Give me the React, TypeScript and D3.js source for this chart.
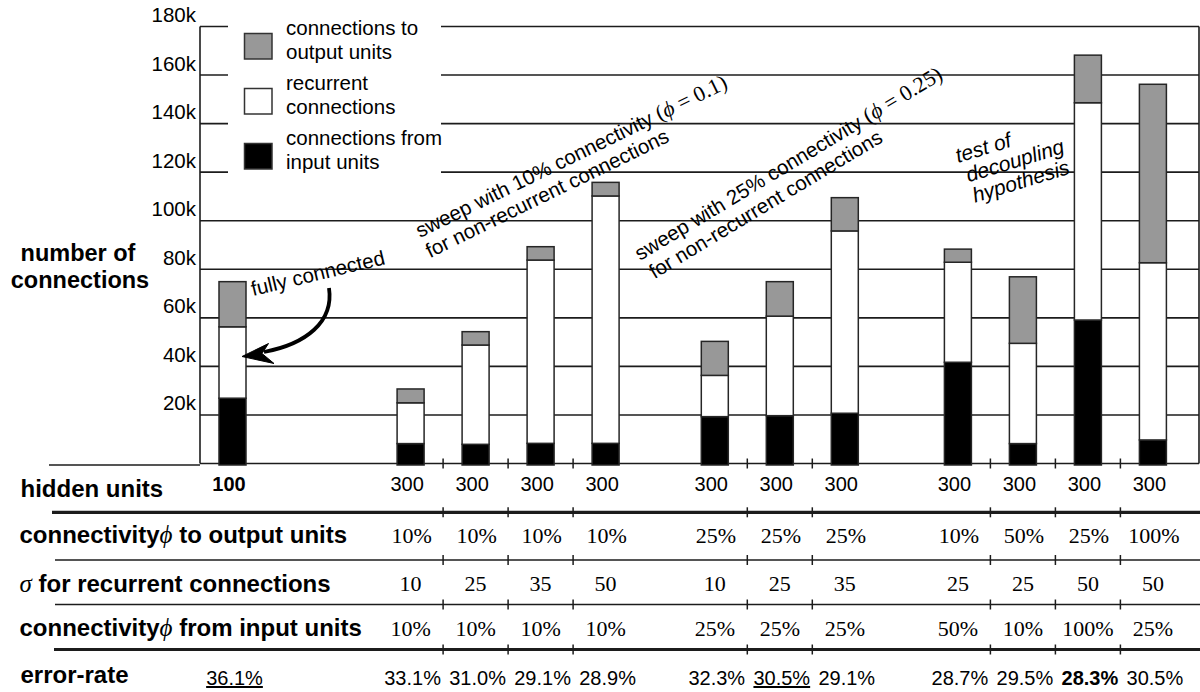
import React from 'react';
import * as d3 from 'd3';

// Experiments, in drawing order (group 0: fully connected, 1: ϕ=0.1 sweep, 2: ϕ=0.25 sweep, 3: decoupling test)
const experiments = ['fc', 's10a', 's10b', 's10c', 's10d', 's25a', 's25b', 's25c', 'dec1', 'dec2', 'dec3', 'dec4'];
const experimentGroup = [0, 1, 1, 1, 1, 2, 2, 2, 3, 3, 3, 3];

// Connection counts per experiment
const inputConnections = [26900, 8200, 7900, 8300, 8300, 19300, 19700, 20700, 41700, 8200, 59100, 9700];
const recurrentConnections = [29400, 16800, 40900, 75500, 101900, 17000, 41000, 75100, 41200, 41300, 89500, 73000];
const outputConnections = [18600, 5700, 5500, 5500, 5600, 14000, 14200, 13700, 5400, 27400, 19600, 73500];

// Table rows
const hiddenUnits = ['100', '300', '300', '300', '300', '300', '300', '300', '300', '300', '300', '300'];
const phiOutput = ['', '10%', '10%', '10%', '10%', '25%', '25%', '25%', '10%', '50%', '25%', '100%'];
const sigmaRecurrent = ['', '10', '25', '35', '50', '10', '25', '35', '25', '25', '50', '50'];
const phiInput = ['', '10%', '10%', '10%', '10%', '25%', '25%', '25%', '50%', '10%', '100%', '25%'];
const errorRate = ['36.1%', '33.1%', '31.0%', '29.1%', '28.9%', '32.3%', '30.5%', '29.1%', '28.7%', '29.5%', '28.3%', '30.5%'];
const underlinedErrors = [0, 6];
const boldErrors = [10];

const yTickValues = [20000, 40000, 60000, 80000, 100000, 120000, 140000, 160000, 180000];
const yTickLabels = ['20k', '40k', '60k', '80k', '100k', '120k', '140k', '160k', '180k'];

const legendItems = [
  { key: 'output', lines: ['connections to', 'output units'] },
  { key: 'recurrent', lines: ['recurrent', 'connections'] },
  { key: 'input', lines: ['connections from', 'input units'] },
];

const SANS = '"Liberation Sans", Arial, Helvetica, sans-serif';
const SERIF = '"Liberation Serif", "Times New Roman", serif';
const INK = '#1c1c1c';
const fills: Record<string, string> = { input: '#000000', recurrent: '#ffffff', output: '#989898' };

// extra spacing (in bar steps) inserted before each group
const groupGap = [0, 1.74, 0.68, 0.74];

export default function App() {
  const W = 1200;
  const H = 692;
  const plotLeft = 200;
  const plotRight = 1199;

  const y = d3.scaleLinear().domain([0, 180000]).range([463.5, 26.5]);

  // slot position of each bar: index plus accumulated group gaps
  const slots = experiments.map((_, i) => {
    let s = i;
    for (let g = 1; g <= experimentGroup[i]; g++) s += groupGap[g];
    return s;
  });
  const x = d3.scaleLinear().domain([0, 1]).range([232.5, 297.5]);
  const cx = slots.map((s) => x(s));
  const barW = 27;

  const table = experiments.map((id, i) => ({
    id,
    input: inputConnections[i],
    recurrent: recurrentConnections[i],
    output: outputConnections[i],
  }));
  const stack = d3.stack<any>().keys(['input', 'recurrent', 'output'])(table);

  // separators between neighbouring bars of the same group
  const separators: number[] = [];
  for (let i = 1; i < experiments.length; i++) {
    if (experimentGroup[i] === experimentGroup[i - 1]) separators.push((cx[i] + cx[i - 1]) / 2);
  }

  const baseY = y(0);
  const tableLines = [
    { y: 512.3, x0: 52, w: 3.2 },
    { y: 560, x0: 55, w: 1.6 },
    { y: 604.5, x0: 55, w: 1.6 },
    { y: 649.5, x0: 54, w: 3.2 },
  ];

  const labelStyle = { fontFamily: SANS, fontWeight: 700, fontSize: 24 } as const;
  const greek = { fontFamily: SERIF, fontStyle: 'italic', fontWeight: 400, fontSize: 25 } as const;

  return (
    <svg width={W} height={H} style={{ position: 'absolute', left: 0, top: 0, background: '#fff' }}>
      <rect width={W} height={H} fill="#fff" />

      {/* gridlines */}
      {yTickValues.map((v) => (
        <line key={v} x1={plotLeft} x2={plotRight} y1={y(v)} y2={y(v)} stroke={INK} strokeWidth={1.6} />
      ))}
      {/* frame */}
      <line x1={plotLeft} x2={plotLeft} y1={y(180000)} y2={baseY} stroke={INK} strokeWidth={1.6} />
      <line x1={plotRight} x2={plotRight} y1={y(180000)} y2={baseY} stroke={INK} strokeWidth={1.6} />
      <line x1={plotLeft} x2={plotRight} y1={baseY} y2={baseY} stroke={INK} strokeWidth={1.6} />
      <line x1={49} x2={plotLeft} y1={465} y2={465} stroke={INK} strokeWidth={1.6} />
      {separators.map((s, i) => (
        <line key={i} x1={s} x2={s} y1={baseY - 5} y2={baseY + 5} stroke={INK} strokeWidth={1.5} />
      ))}

      {/* y tick labels */}
      {yTickValues.map((v, i) => (
        <text key={v} x={196} y={y(v) - 4.5} textAnchor="end" fontFamily={SANS} fontSize={20.5} fill="#000">
          {yTickLabels[i]}
        </text>
      ))}

      {/* y axis title */}
      <text x={78} y={260.7} textAnchor="middle" {...labelStyle} fontSize={23.5}>number of</text>
      <text x={80} y={288.3} textAnchor="middle" {...labelStyle} fontSize={23.5}>connections</text>

      {/* stacked bars */}
      {stack.map((layer) => (
        <g key={layer.key}>
          {layer.map((d, i) => {
            const top = y(d[1]);
            const bottom = layer.key === 'input' ? baseY + 1.5 : y(d[0]);
            return (
              <rect
                key={i}
                x={cx[i] - barW / 2}
                y={top}
                width={barW}
                height={bottom - top}
                fill={fills[layer.key]}
                stroke="#262626"
                strokeWidth={1.5}
              />
            );
          })}
        </g>
      ))}

      {/* legend */}
      <rect x={228} y={14} width={213} height={170} fill="#fff" />
      {legendItems.map((item, k) => {
        const top = 33.5 + k * 55;
        return (
          <g key={item.key}>
            <rect x={244.5} y={top} width={27.5} height={25.5} fill={fills[item.key]} stroke="#333" strokeWidth={1.5} />
            <text x={286} y={top + 1.8} fontFamily={SANS} fontSize={20.5}>{item.lines[0]}</text>
            <text x={286} y={top + 25.8} fontFamily={SANS} fontSize={20.5}>{item.lines[1]}</text>
          </g>
        );
      })}

      {/* annotations */}
      <text transform="translate(253,296) rotate(-13.5)" fontFamily={SANS} fontSize={20.5}>fully connected</text>
      <path d="M329,288 C334,322 306,344 264,352" fill="none" stroke="#000" strokeWidth={3.8} />
      <path d="M242,356.5 L268.5,343.5 L262,353.5 L274,363.5 Z" fill="#000" stroke="#000" strokeWidth={1} strokeLinejoin="round" />

      <g transform="translate(420,238) rotate(-26)" fontFamily={SANS} fontSize={20.5}>
        <text x={0} y={0}>
          sweep with 10% connectivity{' '}
          <tspan fontFamily={SERIF} fontSize={22}>
            (<tspan fontStyle="italic">ϕ</tspan> = 0.1)
          </tspan>
        </text>
        <text x={0} y={22.6}>for non-recurrent connections</text>
      </g>

      <g transform="translate(640,261) rotate(-31)" fontFamily={SANS} fontSize={20.5}>
        <text x={0} y={0}>
          sweep with 25% connectivity{' '}
          <tspan fontFamily={SERIF} fontSize={22}>
            (<tspan fontStyle="italic">ϕ</tspan> = 0.25)
          </tspan>
        </text>
        <text x={3} y={23}>for non-recurrent connections</text>
      </g>

      <g transform="translate(958,163) rotate(-17)" fontFamily={SANS} fontSize={21} fontStyle="italic">
        <text x={0} y={0}>test of</text>
        <text x={4.3} y={21.5}>decoupling</text>
        <text x={4.5} y={43}>hypothesis</text>
      </g>

      {/* table rules */}
      {tableLines.map((l, i) => (
        <g key={i}>
          <line x1={l.x0} x2={W} y1={l.y} y2={l.y} stroke={INK} strokeWidth={l.w} />
          {separators.map((s, j) => (
            <line key={j} x1={s} x2={s} y1={l.y - 5} y2={l.y + 5} stroke={INK} strokeWidth={1.5} />
          ))}
        </g>
      ))}

      {/* table row labels */}
      <text x={20.5} y={496.7} {...labelStyle}>hidden units</text>
      <text x={19.5} y={543.3} {...labelStyle}>
        connectivity
        <tspan {...greek}>ϕ</tspan>
        {'  to output units'}
      </text>
      <text x={19.5} y={591.7} {...labelStyle}>
        <tspan {...greek}>σ</tspan>
        {' for recurrent connections'}
      </text>
      <text x={19.5} y={635.5} {...labelStyle}>
        connectivity
        <tspan {...greek}>ϕ</tspan>
        {'  from input units'}
      </text>
      <text x={20.5} y={683.3} {...labelStyle}>error-rate</text>

      {/* table values */}
      {experiments.map((id, i) => (
        <g key={id}>
          <text x={cx[i] - 3.5} y={491} textAnchor="middle" fontFamily={SANS} fontSize={20} fontWeight={i === 0 ? 700 : 400}>
            {hiddenUnits[i]}
          </text>
          <text x={cx[i] + 1} y={542.5} textAnchor="middle" fontFamily={SERIF} fontSize={22}>{phiOutput[i]}</text>
          <text x={cx[i]} y={591} textAnchor="middle" fontFamily={SERIF} fontSize={22}>{sigmaRecurrent[i]}</text>
          <text x={cx[i]} y={636} textAnchor="middle" fontFamily={SERIF} fontSize={22}>{phiInput[i]}</text>
          <text
            x={cx[i] + 2}
            y={685}
            textAnchor="middle"
            fontFamily={SANS}
            fontSize={20}
            fontWeight={boldErrors.includes(i) ? 700 : 400}
            textDecoration={underlinedErrors.includes(i) ? 'underline' : undefined}
          >
            {errorRate[i]}
          </text>
        </g>
      ))}
    </svg>
  );
}
